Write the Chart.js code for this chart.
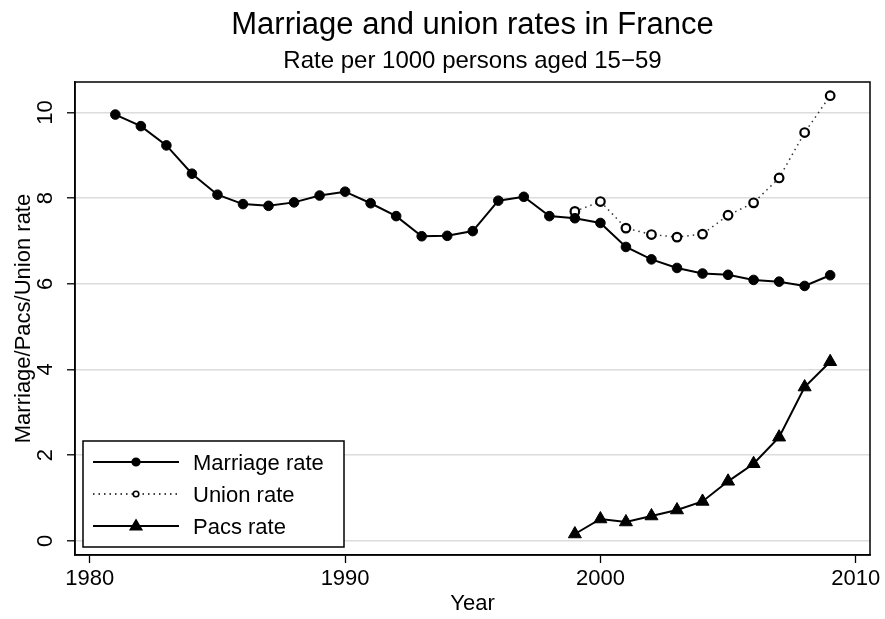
<!DOCTYPE html>
<html lang="en">
<head>
  <meta charset="UTF-8" />
  <title>Marriage and union rates in France</title>
  <script src="https://cdn.jsdelivr.net/npm/chart.js"></script>
  <style>
    html, body {margin:0;padding:0;background:#fff;}
    #wrap {width:885px;height:619px;position:relative;}
  </style>
</head>
<body>
<div id="wrap"><canvas id="chart" width="885" height="619"></canvas></div>
<script>
// --------- data ---------
const marriageYears = [1981,1982,1983,1984,1985,1986,1987,1988,1989,1990,1991,1992,1993,1994,1995,1996,1997,1998,1999,2000,2001,2002,2003,2004,2005,2006,2007,2008,2009];
const marriageRate = [9.95,9.68,9.23,8.57,8.08,7.86,7.82,7.90,8.06,8.15,7.88,7.58,7.11,7.12,7.23,7.94,8.03,7.58,7.53,7.42,6.86,6.57,6.37,6.24,6.21,6.09,6.05,5.95,6.20];
const unionYears = [1999,2000,2001,2002,2003,2004,2005,2006,2007,2008,2009];
const unionRate = [7.69,7.92,7.30,7.15,7.09,7.16,7.60,7.89,8.47,9.53,10.39];
const pacsYears = [1999,2000,2001,2002,2003,2004,2005,2006,2007,2008,2009];
const pacsRate = [0.16,0.51,0.44,0.58,0.72,0.92,1.39,1.80,2.42,3.59,4.18];
const xTicks = [1980,1990,2000,2010];
const yTicks = [0,2,4,6,8,10];

const FONT = "'Liberation Sans', Arial, Helvetica, sans-serif";
Chart.defaults.font.family = FONT;
Chart.defaults.color = '#000';

const pts = (xs, ys) => xs.map((x, i) => ({x: x, y: ys[i]}));

// --------- small drawing helpers ---------
function marker(ctx, style, x, y, r, fill) {
  ctx.save();
  ctx.beginPath();
  if (style === 'triangle') {
    ctx.moveTo(x, y - r);
    ctx.lineTo(x + r * 0.95, y + r * 0.6);
    ctx.lineTo(x - r * 0.95, y + r * 0.6);
    ctx.closePath();
  } else {
    ctx.arc(x, y, r, 0, Math.PI * 2);
  }
  ctx.fillStyle = fill;
  ctx.fill();
  ctx.lineWidth = 1.6;
  ctx.strokeStyle = '#000';
  ctx.stroke();
  ctx.restore();
}

const decor = {
  id: 'decor',
  afterDraw(chart) {
    const ctx = chart.ctx, a = chart.chartArea;
    const cx = (a.left + a.right) / 2;
    ctx.save();
    // plot frame
    ctx.strokeStyle = '#000';
    ctx.lineWidth = 1.5;
    ctx.strokeRect(a.left, a.top, a.right - a.left, a.bottom - a.top);
    // titles
    ctx.fillStyle = '#000';
    ctx.textAlign = 'center';
    ctx.textBaseline = 'alphabetic';
    ctx.font = '31px ' + FONT;
    ctx.fillText('Marriage and union rates in France', cx, 34);
    ctx.font = '24px ' + FONT;
    ctx.fillText('Rate per 1000 persons aged 15\u221259', cx, 68);
    // axis titles
    ctx.font = '22px ' + FONT;
    ctx.fillText('Year', cx, 610);
    ctx.save();
    ctx.translate(29.5, (a.top + a.bottom) / 2);
    ctx.rotate(-Math.PI / 2);
    ctx.fillText('Marriage/Pacs/Union rate', 0, 0);
    ctx.restore();

    // legend box
    const bx = 83, by = 441, bw = 261, bh = 106;
    ctx.fillStyle = '#fff';
    ctx.fillRect(bx, by, bw, bh);
    ctx.strokeRect(bx, by, bw, bh);
    const rows = [462, 494, 526];
    chart.data.datasets.forEach((ds, i) => {
      const y = rows[i];
      ctx.save();
      ctx.strokeStyle = '#000';
      ctx.lineWidth = ds.borderDash ? 1.3 : 2;
      ctx.setLineDash(ds.borderDash || []);
      ctx.beginPath();
      ctx.moveTo(93, y);
      ctx.lineTo(179, y);
      ctx.stroke();
      ctx.restore();
      const r = ds.pointStyle === 'triangle' ? 6 : (ds.borderDash ? 2.8 : 3.8);
      marker(ctx, ds.pointStyle, 136, y, r, ds.pointBackgroundColor);
      ctx.fillStyle = '#000';
      ctx.textAlign = 'left';
      ctx.font = '22px ' + FONT;
      ctx.fillText(ds.label, 193, y + 8);
    });
    ctx.restore();
  }
};

new Chart(document.getElementById('chart'), {
  type: 'line',
  data: {
    datasets: [
      {
        label: 'Marriage rate',
        data: pts(marriageYears, marriageRate),
        borderColor: '#000', borderWidth: 2,
        pointStyle: 'circle', pointRadius: 4.8,
        pointBackgroundColor: '#000', pointBorderColor: '#000', pointBorderWidth: 1
      },
      {
        label: 'Union rate',
        data: pts(unionYears, unionRate),
        borderColor: '#333', borderWidth: 1.5, borderDash: [1.5, 4],
        pointStyle: 'circle', pointRadius: 4.3,
        pointBackgroundColor: '#fff', pointBorderColor: '#000', pointBorderWidth: 2.2
      },
      {
        label: 'Pacs rate',
        data: pts(pacsYears, pacsRate),
        borderColor: '#000', borderWidth: 2,
        pointStyle: 'triangle', pointRadius: 7.5,
        pointBackgroundColor: '#000', pointBorderColor: '#000', pointBorderWidth: 1
      }
    ]
  },
  options: {
    responsive: false,
    animation: false,
    layout: {padding: {top: 82, right: 15, left: 0, bottom: 0}},
    plugins: {legend: {display: false}, title: {display: false}, tooltip: {enabled: false}},
    scales: {
      x: {
        type: 'linear', min: 1979.42, max: 2010.56,
        afterBuildTicks: s => { s.ticks = xTicks.map(v => ({value: v})); },
        afterFit: s => { s.height = 64; },
        grid: {drawOnChartArea: false, tickLength: 8, tickColor: '#000', tickWidth: 1.3},
        border: {display: true, color: '#000', width: 1.5},
        ticks: {font: {size: 22}, padding: 3, color: '#000', maxRotation: 0, callback: v => String(v)}
      },
      y: {
        type: 'linear', min: -0.33, max: 10.71,
        afterBuildTicks: s => { s.ticks = yTicks.map(v => ({value: v})); },
        afterFit: s => { s.width = 75; },
        grid: {color: '#dcdcdc', lineWidth: 1.6, tickLength: 8, tickColor: '#000', tickWidth: 1.3},
        border: {display: true, color: '#000', width: 1.5},
        ticks: {font: {size: 22}, padding: 9, color: '#000', minRotation: 90, maxRotation: 90, crossAlign: 'center', callback: v => String(v)}
      }
    }
  },
  plugins: [decor]
});
</script>
</body>
</html>
